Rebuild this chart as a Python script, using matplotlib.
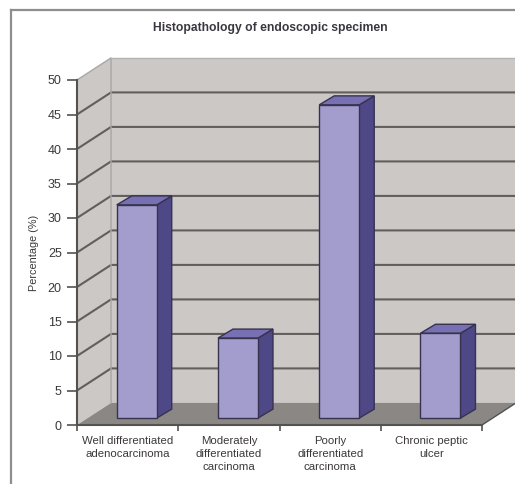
#!/usr/bin/env python3
"""Pseudo-3D column chart of endoscopic specimen histopathology."""

import numpy as np
import matplotlib
matplotlib.use("Agg")
import matplotlib.pyplot as plt
from matplotlib.lines import Line2D
from matplotlib.patches import Polygon

plt.rcParams["font.family"] = ["Liberation Sans", "DejaVu Sans"]

categories = [
    "Well differentiated\nadenocarcinoma",
    "Moderately\ndifferentiated\ncarcinoma",
    "Poorly\ndifferentiated\ncarcinoma",
    "Chronic peptic\nulcer",
]
percentages = [30.9, 11.6, 45.4, 12.3]
y_ticks = list(range(0, 55, 5))

W, H = 515, 484
# depth of the chart box and of the bars, in data units
DEPTH_X, DEPTH_Y = 0.336, 3.2
BAR_DX, BAR_DY = 0.148, 1.3
BAR_SHIFT, BAR_BASE, BAR_WIDTH = 0.09, 1.0, 0.395

WALL = "#cbc8c6"
FLOOR = "#8b8785"
GRID = "#625e5d"
EDGE = "#55514f"
FRONT, SIDE, TOP = "#a39dcd", "#4f4886", "#7770b2"
OUTLINE = "#37324f"
TEXT = "#3c3838"

fig = plt.figure(figsize=(W / 100, H / 100), dpi=100, facecolor="white")
ax = fig.add_axes([77 / W, (H - 425) / H, 405 / W, 345 / H])
ax.patch.set_visible(False)
ax.set_xlim(0, 4)
ax.set_ylim(0, 50)


def poly(points, face, edge=None, lw=0.0, z=1):
    ax.add_patch(Polygon(points, closed=True, facecolor=face, edgecolor=edge or face,
                         linewidth=lw, clip_on=False, zorder=z))


# walls and floor
poly([(0, 0), (DEPTH_X, DEPTH_Y), (DEPTH_X, 50 + DEPTH_Y), (0, 50)], WALL, z=1)
poly([(DEPTH_X, DEPTH_Y), (4 + DEPTH_X, DEPTH_Y), (4 + DEPTH_X, 50 + DEPTH_Y), (DEPTH_X, 50 + DEPTH_Y)], WALL, z=1)
poly([(0, 0), (4, 0), (4 + DEPTH_X, DEPTH_Y), (DEPTH_X, DEPTH_Y)], FLOOR, z=1.2)

# gridlines along both walls
for t in y_ticks[1:-1]:
    ax.plot([0, DEPTH_X, 4 + DEPTH_X], [t, t + DEPTH_Y, t + DEPTH_Y], color=GRID, lw=1.5,
            clip_on=False, zorder=1.5, solid_joinstyle="miter")
ax.plot([0, DEPTH_X, DEPTH_X], [50, 50 + DEPTH_Y, DEPTH_Y], color="#a9a6a4", lw=1.0, clip_on=False, zorder=1.6)
ax.plot([DEPTH_X, 4 + DEPTH_X], [50 + DEPTH_Y] * 2, color="#b5b2b0", lw=1.0, clip_on=False, zorder=1.6)
ax.plot([4, 4 + DEPTH_X], [0, DEPTH_Y], color=EDGE, lw=1.0, clip_on=False, zorder=1.6)

# columns: front face through bar(), side and top faces from the same values
centers = np.arange(len(percentages)) + 0.5 + BAR_SHIFT
ax.bar(centers, percentages, width=BAR_WIDTH, bottom=BAR_BASE, color=FRONT,
       edgecolor=OUTLINE, linewidth=1.0, clip_on=False, zorder=4)
for c, v in zip(centers, percentages):
    left, right = c - BAR_WIDTH / 2, c + BAR_WIDTH / 2
    top = BAR_BASE + v
    poly([(right, BAR_BASE), (right + BAR_DX, BAR_BASE + BAR_DY), (right + BAR_DX, top + BAR_DY), (right, top)],
         SIDE, OUTLINE, 1.0, 3)
    poly([(left, top), (right, top), (right + BAR_DX, top + BAR_DY), (left + BAR_DX, top + BAR_DY)],
         TOP, OUTLINE, 1.0, 3)

# axes, ticks and labels
for name in ("top", "right"):
    ax.spines[name].set_visible(False)
for name in ("left", "bottom"):
    ax.spines[name].set_color(EDGE)
    ax.spines[name].set_linewidth(1.5)
ax.set_yticks(y_ticks)
ax.set_xticks(range(5))
ax.set_xticklabels([])
ax.set_xticks(np.arange(4) + 0.5, categories, minor=True, fontsize=8.2, color=TEXT, linespacing=1.38)
ax.tick_params(axis="x", which="minor", length=0, pad=8)
ax.tick_params(axis="x", which="major", length=4, width=1.2, color=EDGE)
ax.tick_params(axis="y", length=7, width=1.2, color=EDGE, labelsize=9, labelcolor=TEXT, pad=4)
ax.set_ylabel("Percentage (%)", fontsize=7.8, color=TEXT)
ax.yaxis.set_label_coords(-0.095, 0.499)

fig.text(270 / W, 1 - 28 / H, "Histopathology of endoscopic specimen", ha="center", va="center",
         fontsize=8.7, fontweight="bold", color="#3a3640")

# chart frame, open to the right and bottom edges
frame = dict(color="#8f8d8d", lw=1.6, transform=fig.transFigure)
fig.add_artist(Line2D([11 / W, 11 / W], [0, 1 - 10 / H], **frame))
fig.add_artist(Line2D([11 / W, 1], [1 - 10 / H, 1 - 10 / H], **frame))

fig.savefig("out.png", dpi=100)
